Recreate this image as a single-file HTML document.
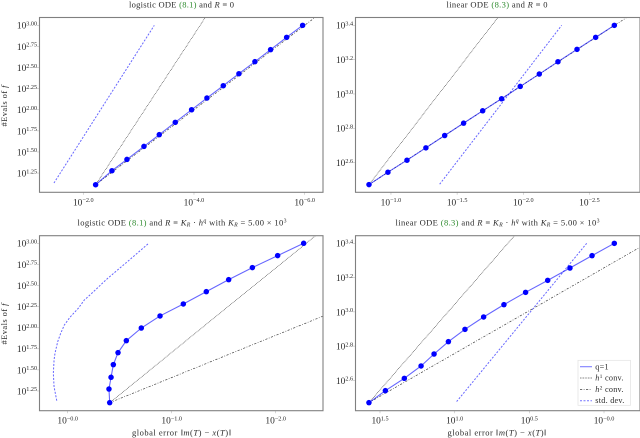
<!DOCTYPE html>
<html lang="en">
<head>
<meta charset="utf-8">
<title>Convergence charts</title>
<style>
html,body{margin:0;padding:0;background:#fff;width:640px;height:438px;overflow:hidden}
svg{display:block;filter:blur(.3px)}
text{font-family:"Liberation Serif",serif;fill:#2a2a2a}
.title{font-size:8.5px;text-anchor:middle}
.axis-label{font-size:8.5px;text-anchor:middle}
.tick{font-size:9.4px}
.exp{font-size:6.2px}
.legend-text{font-size:8.2px;letter-spacing:.25px}
</style>
</head>
<body>
<svg id="fig" width="640" height="438" viewBox="0 0 640 438" xmlns="http://www.w3.org/2000/svg">
  <defs>
    <clipPath id="clip-tl"><rect x="39.5" y="17.5" width="283.5" height="174.8"/></clipPath>
    <clipPath id="clip-tr"><rect x="355.5" y="17.5" width="284.5" height="174.8"/></clipPath>
    <clipPath id="clip-bl"><rect x="39.5" y="235.7" width="283.5" height="175"/></clipPath>
    <clipPath id="clip-br"><rect x="355.5" y="235.7" width="284.5" height="175"/></clipPath>
  </defs>
  <text class="title" x="181.5" y="7.5" textLength="105">logistic ODE <tspan style="fill:#2e8b2e">(8.1)</tspan> and <tspan font-style="italic">R</tspan> ≡ 0</text>
  <text class="title" x="497" y="7.5" textLength="101">linear ODE <tspan style="fill:#2e8b2e">(8.3)</tspan> and <tspan font-style="italic">R</tspan> ≡ 0</text>
  <text class="title" x="182" y="225.5" textLength="209">logistic ODE <tspan style="fill:#2e8b2e">(8.1)</tspan> and <tspan font-style="italic">R</tspan> ≡ <tspan font-style="italic">K</tspan><tspan font-style="italic" font-size="5.8" dy="1.2">R</tspan><tspan dy="-1.2"> · </tspan><tspan font-style="italic">h</tspan><tspan font-style="italic" font-size="5.8" dy="-2.8">q</tspan><tspan dy="2.8"> with </tspan><tspan font-style="italic">K</tspan><tspan font-style="italic" font-size="5.8" dy="1.2">R</tspan><tspan dy="-1.2"> = 5.00 × 10</tspan><tspan font-size="5.8" dy="-2.8">3</tspan></text>
  <text class="title" x="497.5" y="225.5" textLength="204">linear ODE <tspan style="fill:#2e8b2e">(8.3)</tspan> and <tspan font-style="italic">R</tspan> ≡ <tspan font-style="italic">K</tspan><tspan font-style="italic" font-size="5.8" dy="1.2">R</tspan><tspan dy="-1.2"> · </tspan><tspan font-style="italic">h</tspan><tspan font-style="italic" font-size="5.8" dy="-2.8">q</tspan><tspan dy="2.8"> with </tspan><tspan font-style="italic">K</tspan><tspan font-style="italic" font-size="5.8" dy="1.2">R</tspan><tspan dy="-1.2"> = 5.00 × 10</tspan><tspan font-size="5.8" dy="-2.8">3</tspan></text>
  <text class="axis-label" transform="translate(7,106) rotate(-90)" textLength="41">#Evals of <tspan font-style="italic">f</tspan></text>
  <text class="axis-label" transform="translate(7,324) rotate(-90)" textLength="41">#Evals of <tspan font-style="italic">f</tspan></text>
  <text class="axis-label" x="181.5" y="435.5" textLength="99">global error ‖<tspan font-style="italic">m</tspan>(<tspan font-style="italic">T</tspan>) − <tspan font-style="italic">x</tspan>(<tspan font-style="italic">T</tspan>)‖</text>
  <text class="axis-label" x="497" y="435.5" textLength="99">global error ‖<tspan font-style="italic">m</tspan>(<tspan font-style="italic">T</tspan>) − <tspan font-style="italic">x</tspan>(<tspan font-style="italic">T</tspan>)‖</text>
  <g id="plots"></g>
  <g id="legend">
    <rect x="578" y="360.3" width="52.5" height="45" fill="#fff" stroke="#e2e2e2" stroke-width=".7"/>
    <line x1="580" y1="366.7" x2="592" y2="366.7" stroke="#0000ff" stroke-opacity=".5" stroke-width="1.1"/>
    <text class="legend-text" x="595.3" y="369.3">q=1</text>
    <line x1="580" y1="378" x2="592" y2="378" stroke="#000" stroke-opacity=".8" stroke-width=".65" stroke-dasharray=".8 .8"/>
    <text class="legend-text" x="595.3" y="380.6"><tspan font-style="italic">h</tspan><tspan font-size="5.6" dy="-2.6">1</tspan><tspan dy="2.6"> conv.</tspan></text>
    <line x1="580" y1="389.5" x2="592" y2="389.5" stroke="#000" stroke-opacity=".75" stroke-width=".7" stroke-dasharray="2.2 1.5 .8 1.5"/>
    <text class="legend-text" x="595.3" y="392"><tspan font-style="italic">h</tspan><tspan font-size="5.6" dy="-2.6">2</tspan><tspan dy="2.6"> conv.</tspan></text>
    <line x1="580" y1="400.7" x2="592" y2="400.7" stroke="#0000ff" stroke-opacity=".55" stroke-width="1" stroke-dasharray="2 1.5"/>
    <text class="legend-text" x="595.3" y="403.2">std. dev.</text>
  </g>
</svg>
<script>
// All series values are log10 of the plotted quantity (the axes are log-log).
const logisticZeroError = [-2.223,-2.518,-2.789,-3.096,-3.373,-3.662,-3.957,-4.234,-4.529,-4.812,-5.101,-5.384,-5.674,-5.963];
const logisticZeroEvals = [1.112,1.278,1.412,1.566,1.705,1.851,2.0,2.139,2.285,2.427,2.57,2.712,2.858,3.0];
const logisticZeroStdError = [-1.47,-3.283];
const logisticZeroStdEvals = [1.132,3.0];

const linearZeroError = [-0.834,-0.977,-1.121,-1.264,-1.406,-1.549,-1.693,-1.836,-1.977,-2.121,-2.262,-2.406,-2.547,-2.688];
const linearZeroEvals = [2.472,2.544,2.614,2.686,2.758,2.83,2.902,2.972,3.044,3.116,3.188,3.26,3.33,3.4];
const linearZeroStdError = [-1.368,-2.29];
const linearZeroStdEvals = [2.474,3.4];

const logisticKrError = [-0.404,-0.397,-0.417,-0.439,-0.484,-0.564,-0.708,-0.888,-1.112,-1.333,-1.548,-1.776,-2.019,-2.269];
const logisticKrEvals = [1.111,1.273,1.412,1.562,1.704,1.846,1.996,2.139,2.281,2.427,2.569,2.712,2.854,3.0];
const logisticKrStdError = [0.105,0.131,0.138,0.131,0.122,0.096,0.067,0.032,-0.022,-0.102,-0.16,-0.215,-0.375,-0.631,-0.779];
const logisticKrStdEvals = [1.135,1.30,1.459,1.617,1.697,1.834,1.934,2.032,2.123,2.23,2.328,2.388,2.574,2.842,3.0];

const linearKrError = [1.574,1.464,1.337,1.225,1.138,1.042,0.931,0.806,0.670,0.525,0.377,0.228,0.080,-0.069];
const linearKrEvals = [2.470,2.540,2.612,2.684,2.754,2.826,2.898,2.970,3.042,3.114,3.184,3.256,3.328,3.4];
const linearKrStdError = [0.987,0.116];
const linearKrStdEvals = [2.476,3.4];

const ticksXTL = [-2,-4,-6];
const labelsXTL = ["−2.0","−4.0","−6.0"];
const ticksYTL = [1.25,1.5,1.75,2,2.25,2.5,2.75,3];
const labelsYTL = ["1.25","1.50","1.75","2.00","2.25","2.50","2.75","3.00"];
const ticksXTR = [-1,-1.5,-2,-2.5];
const labelsXTR = ["−1.0","−1.5","−2.0","−2.5"];
const ticksYR = [2.6,2.8,3,3.2,3.4];
const labelsYR = ["2.6","2.8","3.0","3.2","3.4"];
const ticksXBL = [0,-1,-2];
const labelsXBL = ["−0.0","−1.0","−2.0"];
const ticksXBR = [1.5,1,0.5,0];
const labelsXBR = ["1.5","1.0","0.5","−0.0"];
const convOrders = [1,2];

const panels = [
 {id:'logistic-zero',clip:'clip-tl',box:[39.5,17.5,323,192.3],xDom:[-1.209,-6.331],yDom:[1.022,3.093],err:logisticZeroError,ev:logisticZeroEvals,sErr:logisticZeroStdError,sEv:logisticZeroStdEvals,xt:ticksXTL,xl:labelsXTL,yt:ticksYTL,yl:labelsYTL},
 {id:'linear-zero',clip:'clip-tr',box:[355.5,17.5,640,192.3],xDom:[-0.732,-2.882],yDom:[2.427,3.4456],err:linearZeroError,ev:linearZeroEvals,sErr:linearZeroStdError,sEv:linearZeroStdEvals,xt:ticksXTR,xl:labelsXTR,yt:ticksYR,yl:labelsYR},
 {id:'logistic-kr',clip:'clip-bl',box:[39.5,235.7,323,410.7],xDom:[0.271,-2.455],yDom:[1.016,3.09],err:logisticKrError,ev:logisticKrEvals,sErr:logisticKrStdError,sEv:logisticKrStdEvals,xt:ticksXBL,xl:labelsXBL,yt:ticksYTL,yl:labelsYTL},
 {id:'linear-kr',clip:'clip-br',box:[355.5,235.7,640,410.7],xDom:[1.664,-0.241],yDom:[2.423,3.4445],err:linearKrError,ev:linearKrEvals,sErr:linearKrStdError,sEv:linearKrStdEvals,xt:ticksXBR,xl:labelsXBR,yt:ticksYR,yl:labelsYR}
];

const NS = 'http://www.w3.org/2000/svg';
function make(tag, parent, name){
  const el = document.createElementNS(NS, tag);
  
  
  parent.appendChild(el);
  return el;
}
function setA(el, o){ for(const k in o) el.setAttribute(k, o[k]); return el; }
function powerLabel(parent, name, x, y, anchor, exponent){
  const t = make('text', parent, name);
  setA(t, {class:'tick', x:x, y:y, 'text-anchor':anchor});
  t.appendChild(document.createTextNode('10'));
  const s = document.createElementNS(NS, 'tspan');
  setA(s, {class:'exp', dy:-3.2});
  s.textContent = exponent;
  t.appendChild(s);
}
const root = document.getElementById('plots');
panels.forEach(p => {
  const [L,T,R,B] = p.box;
  const xScale = v => L + (v - p.xDom[0]) / (p.xDom[1] - p.xDom[0]) * (R - L);
  const yScale = v => B - (v - p.yDom[0]) / (p.yDom[1] - p.yDom[0]) * (B - T);
  const g = make('g', root, 'panel-' + p.id);

  p.xt.forEach((v,i) => {
    const x = xScale(v);
    setA(make('line', g, 'x-tick-' + i), {x1:x, x2:x, y1:B, y2:B+2.5, stroke:'#bbb', 'stroke-width':.6});
    powerLabel(g, 'x-tick-label-' + i, x, B + 13, 'middle', p.xl[i]);
  });
  p.yt.forEach((v,i) => {
    const y = yScale(v);
    setA(make('line', g, 'y-tick-' + i), {x1:L-2.5, x2:L, y1:y, y2:y, stroke:'#bbb', 'stroke-width':.6});
    powerLabel(g, 'y-tick-label-' + i, L - 2.4, y + 3.4, 'end', p.yl[i]);
  });

  const plot = make('g', g, 'plot-area-' + p.id);
  plot.setAttribute('clip-path', 'url(#' + p.clip + ')');

  const e0 = p.err[0], n0 = p.ev[0];
  convOrders.forEach(q => {
    const eEnd = p.xDom[1];
    const nEnd = n0 + (e0 - eEnd) / q;
    setA(make('line', plot, 'h' + q + '-convergence-line'), {
      x1:xScale(e0), y1:yScale(n0), x2:xScale(eEnd), y2:yScale(nEnd),
      stroke:'#000', 'stroke-opacity': q === 1 ? .8 : .75, 'stroke-width': q === 1 ? .65 : .7,
      'stroke-dasharray': q === 1 ? '.8 .8' : '2.2 1.5 .8 1.5'
    });
  });

  const pts = (xs, ys) => xs.map((v,i) => xScale(v).toFixed(2) + ',' + yScale(ys[i]).toFixed(2)).join(' ');
  setA(make('polyline', plot, 'std-dev-line'), {
    points:pts(p.sErr, p.sEv), fill:'none', stroke:'#0000ff', 'stroke-opacity':.6,
    'stroke-width':1, 'stroke-dasharray':'2 1.5'
  });
  setA(make('polyline', plot, 'q1-line'), {
    points:pts(p.err, p.ev), fill:'none', stroke:'#0000ff', 'stroke-opacity':.6, 'stroke-width':1.1
  });
  p.err.forEach((v,i) => {
    setA(make('circle', plot, 'q1-point-' + i), {cx:xScale(v), cy:yScale(p.ev[i]), r:2.75, fill:'#0000ff'});
  });

  setA(make('rect', g, 'plot-frame-' + p.id), {x:L, y:T, width:R-L, height:B-T, fill:'none', stroke:'#808080', 'stroke-width':1.1});
});
// keep legend above plots
const fig = document.getElementById('fig');
fig.appendChild(document.getElementById('legend'));
</script>
</body>
</html>
